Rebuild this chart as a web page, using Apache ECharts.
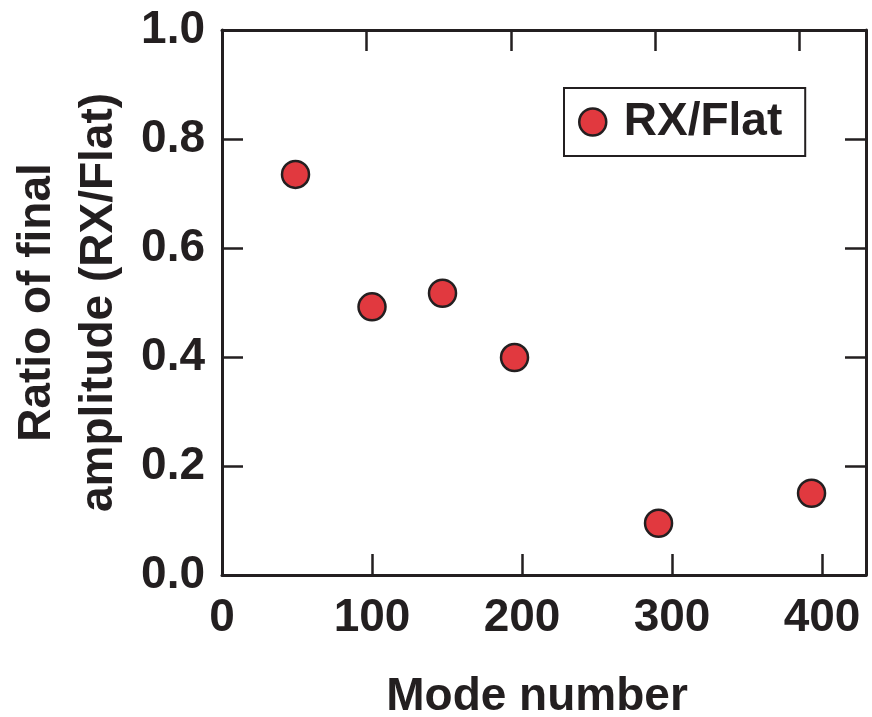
<!DOCTYPE html>
<html lang="en">
  <head>
    <meta charset="UTF-8" />
    <title>Ratio of final amplitude vs mode number</title>
    <style>
      * {
        margin: 0;
        padding: 0;
      }
      body {
        background: #fff;
      }
    </style>
  </head>
  <body>
    <div id="main" style="width: 872px; height: 717px"></div>

    <script src="https://cdn.jsdelivr.net/npm/echarts@6/dist/echarts.min.js"></script>
    <script>
      // values
      var modeNumbers = [49, 100, 147, 195, 291, 393];
      var ratios = [0.735, 0.492, 0.517, 0.399, 0.095, 0.15];
      var seriesName = "RX/Flat";
      var xTitle = "Mode number";
      var yTitle = "Ratio of final\namplitude (RX/Flat)";

      var ink = "#231f20";
      var font = "'Liberation Sans', Arial, Helvetica, sans-serif";

      var points = modeNumbers.map(function (m, i) {
        return [m, ratios[i]];
      });

      var myChart = echarts.init(document.getElementById("main"));

      // shared look for the frame axes
      var frameLine = {
        show: true,
        onZero: false,
        lineStyle: { color: ink, width: 3 },
      };
      var frameTick = {
        show: true,
        inside: true,
        length: 21,
        lineStyle: { color: ink, width: 2.5 },
      };

      var option = {
        animation: false,
        backgroundColor: "#fff",
        textStyle: { fontFamily: font },
        grid: {
          left: 222,
          top: 30,
          right: 6,
          bottom: 142,
          containLabel: false,
          outerBoundsMode: "none",
        },
        legend: {
          data: [seriesName],
          left: 564,
          top: 88,
          orient: "horizontal",
          icon: "circle",
          itemWidth: 52,
          itemHeight: 27,
          padding: [11, 23, 11, 14],
          borderColor: ink,
          borderWidth: 2,
          borderRadius: 0,
          itemStyle: { color: "#e1393f", borderColor: ink, borderWidth: 2.5 },
          textStyle: {
            color: ink,
            fontSize: 46,
            fontWeight: "bold",
            fontFamily: font,
            lineHeight: 46,
            padding: 0,
          },
        },
        xAxis: [
          {
            type: "value",
            position: "bottom",
            min: 0,
            max: 429.3,
            interval: 100,
            name: xTitle,
            nameLocation: "middle",
            nameGap: 99,
            nameTextStyle: {
              color: ink,
              fontSize: 46,
              fontWeight: "bold",
              fontFamily: font,
              padding: [0, 14, 0, 0],
            },
            axisLine: frameLine,
            axisTick: frameTick,
            splitLine: { show: false },
            axisLabel: {
              color: ink,
              fontSize: 46,
              fontWeight: "bold",
              fontFamily: font,
              margin: 20,
              showMaxLabel: false,
            },
          },
          {
            // top frame edge, its ticks sit a little closer together
            type: "value",
            position: "top",
            min: 0,
            max: 446,
            interval: 100,
            axisLine: frameLine,
            axisTick: frameTick,
            axisLabel: { show: false },
            splitLine: { show: false },
          },
        ],
        yAxis: [
          {
            type: "value",
            position: "left",
            min: 0,
            max: 1,
            interval: 0.2,
            name: yTitle,
            nameLocation: "middle",
            nameGap: 92,
            nameRotate: 90,
            nameTextStyle: {
              color: ink,
              fontSize: 46,
              fontWeight: "bold",
              fontFamily: font,
              lineHeight: 62,
              align: "center",
            },
            axisLine: frameLine,
            axisTick: frameTick,
            splitLine: { show: false },
            axisLabel: {
              color: ink,
              fontSize: 46,
              fontWeight: "bold",
              fontFamily: font,
              margin: 17,
              formatter: function (v) {
                return v.toFixed(1);
              },
            },
          },
          {
            // right frame edge
            type: "value",
            position: "right",
            min: 0,
            max: 1,
            interval: 0.2,
            axisLine: frameLine,
            axisTick: frameTick,
            axisLabel: { show: false },
            splitLine: { show: false },
          },
        ],
        series: [
          {
            name: seriesName,
            type: "scatter",
            xAxisIndex: 0,
            yAxisIndex: 0,
            symbol: "circle",
            symbolSize: 27,
            itemStyle: {
              color: "#e1393f",
              borderColor: ink,
              borderWidth: 2.5,
              opacity: 1,
            },
            data: points,
          },
        ],
      };

      myChart.setOption(option);
    </script>
  </body>
</html>
